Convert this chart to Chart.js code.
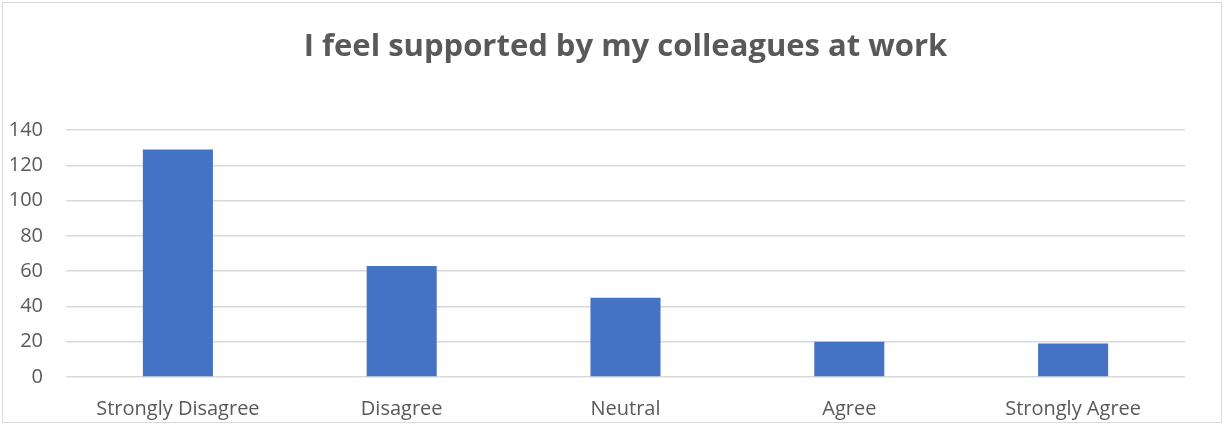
<!DOCTYPE html>
<html>
<head>
<meta charset="utf-8">
<script src="https://cdn.jsdelivr.net/npm/chart.js@4/dist/chart.umd.min.js"></script>
<style>
  html, body { margin: 0; padding: 0; background: #fff; }
  canvas { display: block; }
</style>
</head>
<body>
<canvas id="chart" width="1224" height="425"></canvas>
<script>
// Data
const categories = ['Strongly Disagree', 'Disagree', 'Neutral', 'Agree', 'Strongly Agree'];
const responses = [129, 63, 45, 20, 19];
const yTicks = [0, 20, 40, 60, 80, 100, 120, 140];

const textColor = '#595959';
const gridColor = '#d9d9d9';
const fontFamily = "'Open Sans', 'Noto Sans', sans-serif";

// outer frame like the spreadsheet chart box
const framePlugin = {
    id: 'frame',
    afterDraw(chart) {
        const c = chart.ctx;
        c.save();
        c.strokeStyle = '#d9d9d9';
        c.lineWidth = 1;
        c.strokeRect(2.5, 2.5, chart.width - 5, chart.height - 5);
        c.restore();
    }
};

const ctx = document.getElementById('chart').getContext('2d');
new Chart(ctx, {
    type: 'bar',
    data: {
        labels: categories,
        datasets: [{
            label: 'Responses',
            data: responses,
            backgroundColor: '#4472c4',
            barPercentage: 0.313,
            categoryPercentage: 1
        }]
    },
    options: {
        responsive: false,
        animation: false,
        layout: { padding: { left: 0, right: 0, top: 0, bottom: 0 } },
        plugins: {
            legend: { display: false },
            tooltip: { enabled: false },
            title: {
                display: true,
                fullSize: false, // centre over the plot, not the canvas
                text: 'I feel supported by my colleagues at work',
                color: textColor,
                font: { family: fontFamily, size: 31, weight: 'bold' },
                padding: { top: 29, bottom: 64 }
            }
        },
        scales: {
            x: {
                grid: { display: false, drawTicks: false },
                border: { display: false },
                ticks: {
                    color: textColor,
                    font: { family: fontFamily, size: 20 },
                    padding: 20,
                    maxRotation: 0
                },
                afterFit(scale) { scale.height = 48; }
            },
            y: {
                min: 0,
                max: 140,
                afterBuildTicks(scale) { scale.ticks = yTicks.map(v => ({ value: v })); },
                grid: { color: gridColor, lineWidth: 1.5, drawTicks: false },
                border: { display: false },
                ticks: {
                    color: textColor,
                    font: { family: fontFamily, size: 20 },
                    padding: 23
                },
                afterFit(scale) { scale.width = 66; }
            },
            // empty right-hand spacer so the plot ends where the reference does
            spacer: {
                position: 'right',
                display: true,
                grid: { display: false, drawTicks: false },
                border: { display: false },
                ticks: { display: false },
                afterFit(scale) { scale.width = 39; }
            }
        }
    },
    plugins: [framePlugin]
});
</script>
</body>
</html>
